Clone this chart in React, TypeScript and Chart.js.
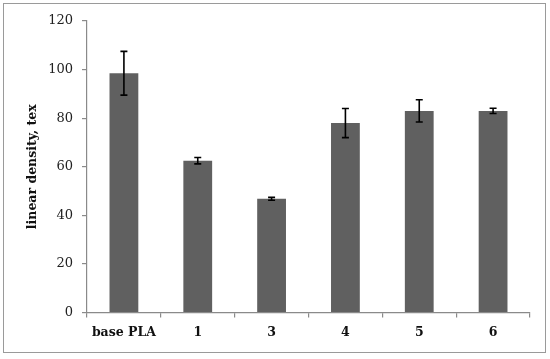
import React, { useEffect, useRef } from "react";
import { Chart, registerables } from "chart.js";

Chart.register(...registerables);

const categories = ["base PLA", "1", "3", "4", "5", "6"];
const values = [98.5, 62.5, 46.8, 78, 83, 83];
const errors = [9, 1.3, 0.6, 6, 4.6, 1.1];
const yTicks = [0, 20, 40, 60, 80, 100, 120];

const FONT = "'DejaVu Serif', 'Liberation Serif', serif";

const errorBarPlugin = {
  id: "errorBars",
  afterDatasetsDraw(chart: any) {
    const { ctx, scales } = chart;
    const meta = chart.getDatasetMeta(0);
    const y = scales.y;
    ctx.save();
    ctx.strokeStyle = "#000";
    ctx.lineWidth = 1.6;
    meta.data.forEach((bar: any, i: number) => {
      const x = bar.x;
      const top = y.getPixelForValue(values[i] + errors[i]);
      const bot = y.getPixelForValue(values[i] - errors[i]);
      const cap = 3.5;
      ctx.beginPath();
      ctx.moveTo(x, top);
      ctx.lineTo(x, bot);
      ctx.moveTo(x - cap, top);
      ctx.lineTo(x + cap, top);
      ctx.moveTo(x - cap, bot);
      ctx.lineTo(x + cap, bot);
      ctx.stroke();
    });
    ctx.restore();
  },
};

export default function App() {
  const ref = useRef<HTMLCanvasElement | null>(null);
  useEffect(() => {
    document.body.style.margin = "0";
    const chart = new Chart(ref.current as HTMLCanvasElement, {
      type: "bar",
      data: {
        labels: categories,
        datasets: [
          {
            data: values,
            backgroundColor: "#606060",
            categoryPercentage: 1,
            barPercentage: 0.39,
          },
        ],
      },
      plugins: [errorBarPlugin],
      options: {
        animation: false,
        responsive: false,
        maintainAspectRatio: false,
        layout: { padding: { top: 21, right: 20, left: 0, bottom: 0 } },
        plugins: { legend: { display: false }, tooltip: { enabled: false } },
        scales: {
          x: {
            afterFit: (s: any) => {
              s.height = 46.5;
            },
            grid: {
              offset: true,
              drawOnChartArea: false,
              drawTicks: true,
              tickLength: 5,
              color: "#8a8a8a",
              lineWidth: 1.2,
            },
            border: { color: "#8a8a8a", width: 1.2 },
            ticks: {
              color: "#111",
              padding: 8,
              font: { family: FONT, size: 12.5, weight: "bold" },
            },
          },
          y: {
            min: 0,
            max: 120,
            afterFit: (s: any) => {
              s.width = 87;
            },
            afterBuildTicks: (s: any) => {
              s.ticks = yTicks.map((v) => ({ value: v }));
            },
            grid: {
              drawOnChartArea: false,
              drawTicks: true,
              tickLength: 5,
              color: "#8a8a8a",
              lineWidth: 1.2,
            },
            border: { color: "#8a8a8a", width: 1.2 },
            ticks: {
              color: "#222",
              padding: 9,
              font: { family: FONT, size: 13 },
            },
            title: {
              display: true,
              text: "linear density, tex",
              color: "#111",
              padding: { top: 25, bottom: 0 },
              font: { family: FONT, size: 12.5, weight: "bold" },
            },
          },
        },
      },
    } as any);
    return () => chart.destroy();
  }, []);
  return (
    <div style={{ position: "relative", width: 550, height: 359, background: "#fff" }}>
      <div
        style={{
          position: "absolute",
          left: 3,
          top: 3,
          width: 543,
          height: 350,
          border: "1.5px solid #9a9a9a",
          boxSizing: "border-box",
        }}
      />
      <canvas ref={ref} width={550} height={359} style={{ position: "absolute", left: 0, top: 0 }} />
    </div>
  );
}
